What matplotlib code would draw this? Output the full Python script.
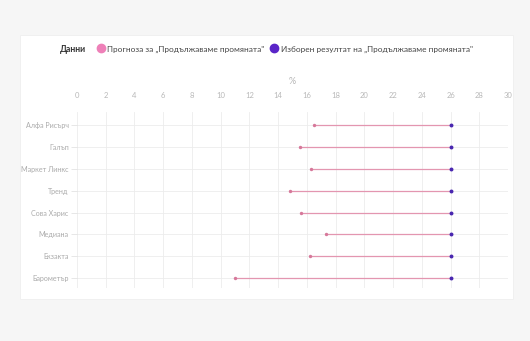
import matplotlib
matplotlib.use('Agg')
import matplotlib.pyplot as plt
from matplotlib.patches import Rectangle
from matplotlib.lines import Line2D
import numpy as np

# data
pollsters = ['Алфа Рисърч', 'Галъп', 'Маркет Линкс', 'Тренд',
             'Сова Харис', 'Медиана', 'Екзакта', 'Барометър']
forecast = [16.5, 15.5, 16.3, 14.8, 15.6, 17.3, 16.2, 11.0]
result = [26.0, 26.0, 26.0, 26.0, 26.0, 26.0, 26.0, 26.0]
xticks = list(range(0, 31, 2))
label_forecast = 'Прогноза за „Продължаваме промяната"'
label_result = 'Изборен резултат на „Продължаваме промяната"'

plt.rcParams['font.family'] = ['Lato', 'Open Sans', 'DejaVu Sans']

W, H = 530, 341
fig = plt.figure(figsize=(W / 100, H / 100), dpi=100)
fig.patch.set_facecolor('#f6f6f6')

# white card
fig.patches.append(Rectangle((20 / W, 1 - 299 / H), 493 / W, 264 / H,
                             transform=fig.transFigure, facecolor='white',
                             edgecolor='#efefef', lw=0.6, zorder=-5))

ax = fig.add_axes([77 / W, 1 - 288 / H, 431 / W, 176 / H])
ax.set_zorder(2)
ax.set_facecolor('none')
y = np.arange(len(pollsters))

ax.hlines(y, forecast, result, color='#e396b0', lw=0.9, zorder=2)
ax.scatter(forecast, y, s=6, color='#d6789a', lw=0, zorder=3)
ax.scatter(result, y, s=8, color='#4a27b0', lw=0, zorder=4)

ax.set_xlim(0, 30)
ax.set_ylim(len(pollsters) - 1 + 0.45, -0.6)
ax.set_xticks(xticks)
ax.set_yticks(y)
ax.set_yticklabels(pollsters)
ax.xaxis.tick_top()
ax.xaxis.set_label_position('top')
ax.set_xlabel('%', color='#b5b5b5', fontsize=6.5, labelpad=6)
ax.tick_params(axis='x', length=0, pad=9, labelsize=5.5, labelcolor='#b8b8b8')
ax.tick_params(axis='y', length=4, width=0.5, color='#dddddd', pad=2,
               labelsize=5.1, labelcolor='#ababab')
ax.grid(True, color='#ececec', lw=0.6, zorder=0)
ax.set_axisbelow(True)
for s in ax.spines.values():
    s.set_visible(False)

# legend
fig.text(60 / W, 1 - 49 / H, 'Данни', fontsize=6.2, fontweight='bold',
         color='#333333', va='center')
handles = [Line2D([], [], marker='o', ls='', ms=6, color='#ee80b8'),
           Line2D([], [], marker='o', ls='', ms=6, color='#5a25c8')]
fig.legend(handles, [label_forecast, label_result], loc='center left',
           bbox_to_anchor=(92 / W, 1 - 49 / H), ncol=2, frameon=False,
           fontsize=5.95, handletextpad=0.2, columnspacing=0.7,
           handlelength=1.1, borderpad=0, labelcolor='#444444')

fig.savefig('out.png', dpi=100, facecolor=fig.get_facecolor())
